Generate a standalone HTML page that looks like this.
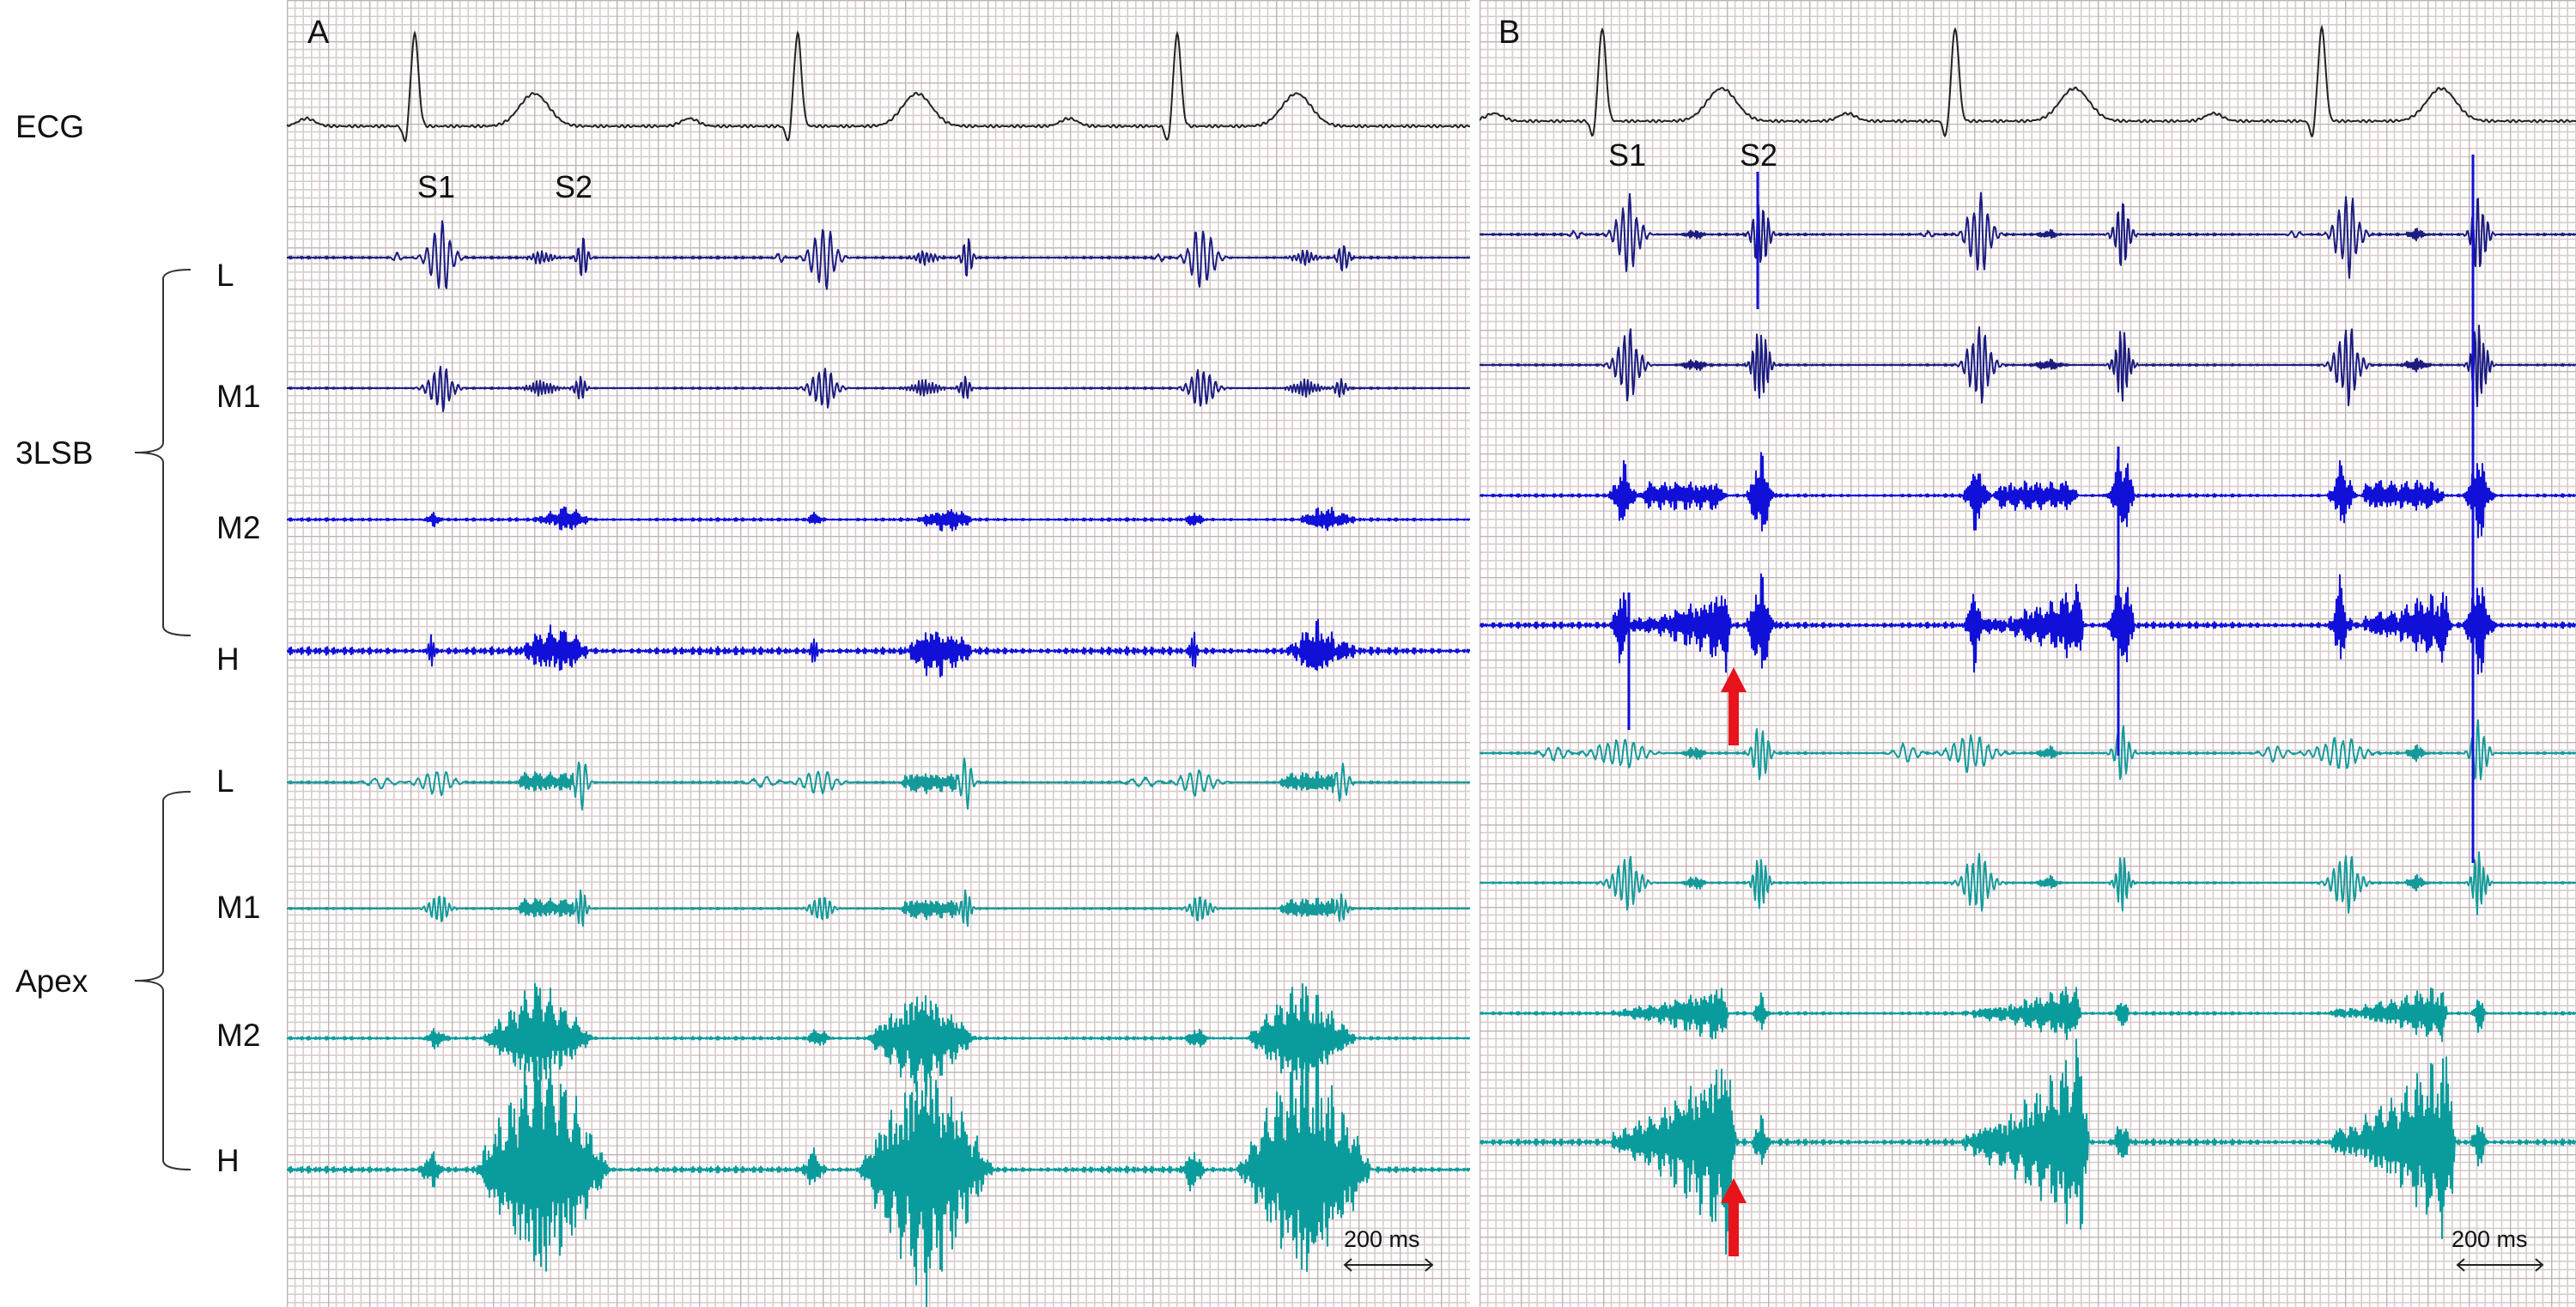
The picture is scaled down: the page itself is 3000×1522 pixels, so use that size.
<!DOCTYPE html>
<html><head><meta charset="utf-8"><style>
html,body{margin:0;padding:0;background:#fff;}
svg{display:block;}
text{font-family:"Liberation Sans",sans-serif;fill:#111;}
</style></head><body>
<svg id="fig" width="3000" height="1522" viewBox="0 0 3000 1522" xmlns="http://www.w3.org/2000/svg">
<defs>
<pattern id="gridA" x="334" y="0" width="48" height="48" patternUnits="userSpaceOnUse">
<rect width="48" height="48" fill="#fff"/>
<path d="M9.6 0V48M19.2 0V48M28.8 0V48M38.4 0V48M0 9.6H48M0 19.2H48M0 28.8H48M0 38.4H48" stroke="#d8cdcd" stroke-width="1.6"/>
<path d="M0 0V48M0 0H48" stroke="#c2b3b3" stroke-width="2.8"/>
</pattern>
<pattern id="gridB" x="1723" y="0" width="48" height="48" patternUnits="userSpaceOnUse">
<rect width="48" height="48" fill="#fff"/>
<path d="M9.6 0V48M19.2 0V48M28.8 0V48M38.4 0V48M0 9.6H48M0 19.2H48M0 28.8H48M0 38.4H48" stroke="#d8cdcd" stroke-width="1.6"/>
<path d="M0 0V48M0 0H48" stroke="#c2b3b3" stroke-width="2.8"/>
</pattern>
<clipPath id="clipA"><rect x="334" y="0" width="1378" height="1522"/></clipPath>
<clipPath id="clipB"><rect x="1723" y="0" width="1277" height="1522"/></clipPath>
</defs>
<rect x="334" y="0" width="1378" height="1522" fill="url(#gridA)"/>
<rect x="1723" y="0" width="1277" height="1522" fill="url(#gridB)"/>
<g id="tracesA" clip-path="url(#clipA)"></g>
<g id="tracesB" clip-path="url(#clipB)"></g>

<text x="358" y="50" font-size="38">A</text>
<text x="1745" y="50" font-size="38">B</text>
<text x="486" y="230" font-size="36">S1</text>
<text x="646" y="230" font-size="36">S2</text>
<text x="1873" y="193" font-size="36">S1</text>
<text x="2026" y="193" font-size="36">S2</text>

<text x="18" y="160" font-size="37">ECG</text>
<text x="18" y="540" font-size="37">3LSB</text>
<text x="18" y="1155" font-size="37">Apex</text>
<g font-size="37">
<text x="252" y="333">L</text>
<text x="252" y="474">M1</text>
<text x="252" y="627">M2</text>
<text x="252" y="780">H</text>
<text x="252" y="922">L</text>
<text x="252" y="1069">M1</text>
<text x="252" y="1218">M2</text>
<text x="252" y="1364">H</text>
</g>
<path d="M222 314 Q192 314 190 324 V515 Q190 527 157 527 Q190 527 190 539 V730 Q192 740 222 740" fill="none" stroke="#333" stroke-width="2"/>
<path d="M222 922 Q192 922 190 932 V1130 Q190 1142 157 1142 Q190 1142 190 1154 V1352 Q192 1362 222 1362" fill="none" stroke="#333" stroke-width="2"/>

<g>
<text x="1565" y="1452" font-size="27">200 ms</text>
<path d="M1566 1473H1668M1574 1466L1566 1473L1574 1480M1660 1466L1668 1473L1660 1480" fill="none" stroke="#222" stroke-width="2"/>
</g>
<g>
<text x="2855" y="1452" font-size="27">200 ms</text>
<path d="M2862 1473H2961M2870 1466L2862 1473L2870 1480M2953 1466L2961 1473L2953 1480" fill="none" stroke="#222" stroke-width="2"/>
</g>
<g id="arrows">
<path d="M2013 868V806H2004L2019 777L2034 806H2025V868Z" fill="#e8141b"/>
<path d="M2013 1463V1401H2004L2019 1372L2034 1401H2025V1463Z" fill="#e8141b"/>
</g>
</svg>
<script>
// ---- data ----
const beatsA = [482, 928, 1370];
const beatsB = [1865, 2276, 2703];
const s2OffsetsA = [188, 190, 186];
const s2OffsetsB = [183, 194, 182];
const ecgBaselineA = 147;
const ecgBaselineB = 141;
const ecgRAmp = [108, 108, 108];
const ecgTAmp = [38, 38, 38];
const baselinesA = [300, 452, 605, 758, 911, 1058, 1209, 1362];
const baselinesB = [273, 425, 577, 728, 877, 1028, 1180, 1330];
const channelNames = ['3lsb-l','3lsb-m1','3lsb-m2','3lsb-h','apex-l','apex-m1','apex-m2','apex-h'];
const channelColors = ['#1c1c80','#1c1c80','#1010d8','#1010d8','#159a9a','#159a9a','#0a9c9c','#0a9c9c'];
const noiseA = [1.5,1.2,2,5,1.5,1.2,2,4];
const noiseB = [1.5,1.2,2,4,1.5,1.2,2,4];
// bursts: [anchor ('R' or 'S2'), offset, halfwidth, amplitude, period, shape]
const burstsA = [
 [['R',30,22,55,9,'g'],['R',150,20,9,5,'g'],['S2',8,10,28,6,'g'],['R',-20,8,6,10,'g']],
 [['R',30,22,35,7,'g'],['R',150,25,10,4,'g'],['S2',5,10,18,5,'g']],
 [['R',22,12,10,2,'g'],['R',175,35,18,2,'d']],
 [['R',20,6,30,3,'g'],['R',165,45,36,2,'d']],
 [['R',25,28,22,11,'g'],['R',155,35,12,2,'f'],['S2',6,12,38,8,'g'],['R',-40,25,8,16,'g']],
 [['R',28,18,24,6,'g'],['R',155,35,12,2,'f'],['S2',6,10,28,5,'g']],
 [['R',25,15,14,2,'g'],['R',145,65,75,2,'d']],
 [['R',20,14,28,2,'g'],['R',150,80,170,2,'d']]
];
const burstsB = [
 [['R',30,22,55,8,'g'],['S2',2,14,55,6,'g'],['R',-30,10,6,10,'g'],['R',110,15,7,2,'g']],
 [['R',30,22,52,7,'g'],['S2',2,14,58,5,'g'],['R',110,20,8,2,'g']],
 [['R',25,15,45,2,'g'],['R',95,50,18,2,'f'],['S2',2,15,60,2,'g']],
 [['R',22,10,60,2,'g'],['R',90,62,55,2,'c'],['S2',2,16,70,2,'g']],
 [['R',20,40,24,10,'g'],['R',-55,22,12,12,'g'],['R',110,15,10,2,'g'],['S2',2,14,45,7,'g']],
 [['R',28,25,40,7,'g'],['R',110,15,10,2,'g'],['S2',2,12,45,5,'g']],
 [['R',80,68,42,2,'c'],['S2',2,8,28,2,'g']],
 [['R',85,72,145,2,'c'],['S2',2,10,35,2,'g']]
];
// vertical artefact spikes in panel B: [x, yTop, yBottom]
const spikesB = [[1897,690,850],[2047,200,360],[2467,520,880],[2880,180,1005]];

function env(u, shape){
  if (shape==='g') return Math.exp(-u*u*2.2);
  const a=Math.abs(u); if(a>1) return 0;
  if (shape==='d') return 1-a;
  if (shape==='f') return a<0.8?1:(1-a)/0.2;
  if (shape==='c'){ const v=(u+1)/2; return v>0.94?(1-v)/0.06:Math.pow(v,1.6)*0.9+0.1; }
  return 0;
}
function osc(x,P){
  if (P<=2.5){
    const m=0.25+0.75*Math.pow(Math.abs(Math.sin(x*1.37)*Math.sin(x*0.53+1.1)*Math.cos(x*0.211)),0.6);
    return ((x&1)?1:-1)*m;
  }
  return Math.sin(2*Math.PI*x/P)*(0.55+0.45*Math.abs(Math.sin(x*0.173)*Math.cos(x*0.041)));
}

function buildChannel(g, x0, x1, base, bursts, beats, s2offs, noise, color, name){
  let d='';
  for(let x=x0;x<=x1;x+=1){
    let y=noise*Math.sin(x*2.7)*Math.sin(x*0.31)*(0.4+0.6*Math.abs(Math.sin(x*0.013)));
    for(let b=0;b<beats.length;b++){
      for(const br of bursts){
        const c=beats[b]+(br[0]==='R'?0:s2offs[b])+br[1];
        const u=(x-c)/br[2];
        if(Math.abs(u)>2.5) continue;
        y+=br[3]*env(u,br[5])*osc(x+b*7,br[4]);
      }
    }
    d+=(x===x0?'M':'L')+x+' '+(base-y).toFixed(1);
  }
  const p=document.createElementNS('http://www.w3.org/2000/svg','path');
  p.setAttribute('d',d);p.setAttribute('fill','none');p.setAttribute('stroke',color);
  p.setAttribute('stroke-width','2');p.setAttribute('stroke-linejoin','round');
  
  
  g.appendChild(p);
}
function buildECG(g,x0,x1,base,beats,name){
  let d='';
  for(let x=x0;x<=x1;x++){
    let y=1.5*Math.sin(x*0.9)*Math.sin(x*0.11);
    for(let b=0;b<beats.length;b++){
      const t=x-beats[b];
      y+=9*Math.exp(-Math.pow((t+125)/14,2));
      y+=-20*Math.exp(-Math.pow((t+10)/4,2));
      y+=ecgRAmp[b]*Math.exp(-Math.pow((t-1)/6,2));
      y+=ecgTAmp[b]*Math.exp(-Math.pow((t-140)/24,2));
    }
    d+=(x===x0?'M':'L')+x+' '+(base-y).toFixed(1);
  }
  const p=document.createElementNS('http://www.w3.org/2000/svg','path');
  p.setAttribute('d',d);p.setAttribute('fill','none');p.setAttribute('stroke','#222');p.setAttribute('stroke-width','2');
  
  
  g.appendChild(p);
}
const gA=document.getElementById('tracesA'), gB=document.getElementById('tracesB');
buildECG(gA,334,1712,ecgBaselineA,beatsA,'ecg-trace-a');
buildECG(gB,1723,3000,ecgBaselineB,beatsB,'ecg-trace-b');
for(let i=0;i<8;i++){
  buildChannel(gA,334,1712,baselinesA[i],burstsA[i],beatsA,s2OffsetsA,noiseA[i],channelColors[i],'trace-a-'+channelNames[i]);
  buildChannel(gB,1723,3000,baselinesB[i],burstsB[i],beatsB,s2OffsetsB,noiseB[i],channelColors[i],'trace-b-'+channelNames[i]);
}
for(const s of spikesB){
  const l=document.createElementNS('http://www.w3.org/2000/svg','line');
  l.setAttribute('x1',s[0]);l.setAttribute('x2',s[0]);l.setAttribute('y1',s[1]);l.setAttribute('y2',s[2]);
  l.setAttribute('stroke','#1010d8');l.setAttribute('stroke-width','3');
  
  
  gB.appendChild(l);
}
</script>
</body></html>
